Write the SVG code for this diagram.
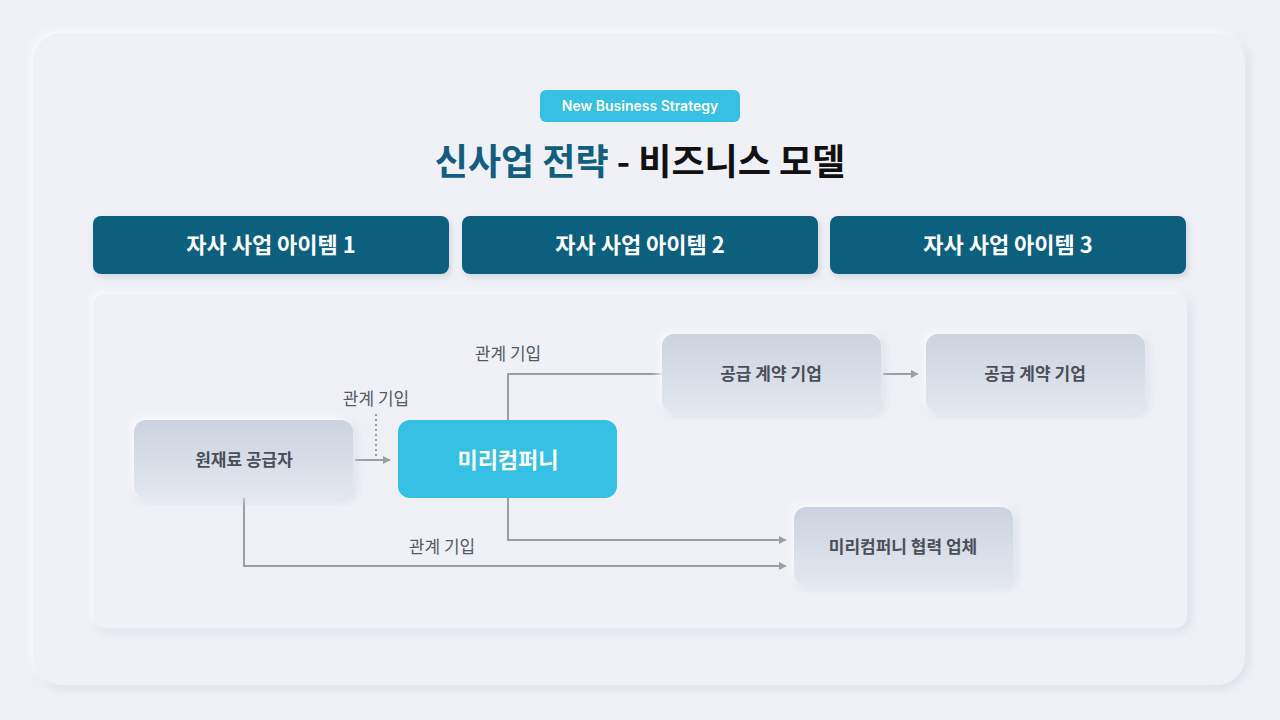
<svg xmlns="http://www.w3.org/2000/svg" width="1280" height="720" viewBox="0 0 1280 720">
<defs>
<linearGradient id="gb" x1="0" y1="0" x2="0" y2="1"><stop offset="0" stop-color="#ccd3de"/><stop offset="1" stop-color="#e3e7ef"/></linearGradient>
<filter id="sh" x="-10%" y="-10%" width="130%" height="140%"><feDropShadow dx="2" dy="3" stdDeviation="3" flood-color="#8a94a8" flood-opacity="0.3"/></filter>
<filter id="sw" x="-10%" y="-10%" width="120%" height="120%"><feDropShadow dx="-3" dy="-3" stdDeviation="4" flood-color="#ffffff" flood-opacity="0.9"/><feDropShadow dx="3" dy="3" stdDeviation="4" flood-color="#c9cfdc" flood-opacity="0.6"/></filter>
<marker id="ar" viewBox="0 0 10 10" refX="9" refY="5" markerWidth="8" markerHeight="8" markerUnits="userSpaceOnUse" orient="auto"><path d="M0,0L10,5L0,10z" fill="#9a9ea6"/></marker>
</defs>
<style>
text{font-family:"Noto Sans CJK KR","Noto Sans",sans-serif;text-anchor:middle}
.h{fill:#115e7e;filter:url(#sh)}
.ht{fill:#fff;font-size:22px;font-weight:700}
.gb{fill:url(#gb);filter:url(#sw)}
.gt{fill:#4a4f58;font-size:17px;font-weight:700}
.lb{fill:#555a63;font-size:17px}
.c{fill:none;stroke:#9a9ea6;stroke-width:2}
</style>
<rect width="1280" height="720" fill="#eff1f7"/>
<rect x="33" y="33" width="1212" height="652" rx="28" fill="#eff1f7" filter="url(#sw)"/>
<rect x="540" y="90" width="200" height="32" rx="6" fill="#36c0e3"/>
<text x="640" y="111" fill="#fff" font-size="14" font-weight="600" style="font-family:Inter,'Noto Sans',sans-serif">New Business Strategy</text>
<text x="640" y="175" font-size="36" font-weight="700"><tspan fill="#115e7e">신사업 전략</tspan><tspan fill="#111"> - 비즈니스 모델</tspan></text>
<g id="h1"><rect class="h" x="93" y="216" width="356" height="58" rx="8"/><text class="ht" x="271" y="253">자사 사업 아이템 1</text></g>
<g id="h2"><rect class="h" x="462" y="216" width="356" height="58" rx="8"/><text class="ht" x="640" y="253">자사 사업 아이템 2</text></g>
<g id="h3"><rect class="h" x="830" y="216" width="356" height="58" rx="8"/><text class="ht" x="1008" y="253">자사 사업 아이템 3</text></g>
<rect x="93" y="294" width="1094" height="334" rx="12" fill="#eff1f7" filter="url(#sw)"/>
<g id="connectors">
<path class="c" d="M355,460H390" marker-end="url(#ar)"/>
<path d="M376,414V456" stroke="#9a9ea6" stroke-width="2" stroke-dasharray="2,3" fill="none"/>
<path class="c" d="M508,420V374H662"/>
<path class="c" d="M883,374H918" marker-end="url(#ar)"/>
<path class="c" d="M508,498V540H786" marker-end="url(#ar)"/>
<path class="c" d="M244,498V566H786" marker-end="url(#ar)"/>
<text class="lb" x="508" y="360">관계 기입</text>
<text class="lb" x="376" y="405">관계 기입</text>
<text class="lb" x="442" y="553">관계 기입</text>
</g>
<g id="n1"><rect class="gb" x="134" y="420" width="219" height="78" rx="12"/><text class="gt" x="244" y="466">원재료 공급자</text></g>
<g id="n2"><rect x="398" y="420" width="219" height="78" rx="12" fill="#36c0e3"/><text x="508" y="468" fill="#fff" font-size="22" font-weight="700">미리컴퍼니</text></g>
<g id="n3"><rect class="gb" x="662" y="334" width="219" height="78" rx="12"/><text class="gt" x="771" y="380">공급 계약 기업</text></g>
<g id="n4"><rect class="gb" x="926" y="334" width="219" height="78" rx="12"/><text class="gt" x="1035" y="380">공급 계약 기업</text></g>
<g id="n5"><rect class="gb" x="794" y="507" width="219" height="78" rx="12"/><text class="gt" x="903" y="553">미리컴퍼니 협력 업체</text></g>
</svg>
